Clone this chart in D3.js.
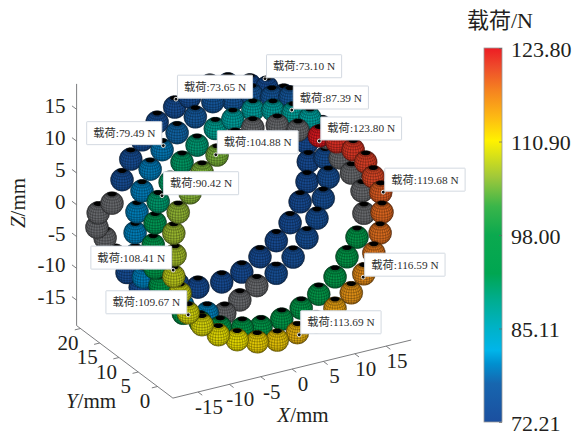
<!DOCTYPE html>
<html>
<head>
<meta charset="utf-8">
<script src="https://cdn.jsdelivr.net/npm/d3@7"></script>
<style>
  body { margin: 0; background: #fff; }
  text { font-family: "Liberation Serif", "Noto Sans CJK SC", serif; fill: #231f20; }
</style>
</head>
<body>
<div id="chart"></div>
<script>
// ball rows, back to front (null load = unloaded ball, drawn grey)
var rowY = [18, 12, 6, 0];

var rowPx = [3.3, 6.8, 9.5, 12.2, 14.3, 15.6, 15.9, 16.1, 15.9, 14.8, 13.2, 11, 8.4, 5.5, 2.3, -1.5, -4.7, -10.7, -12.8, -14.7, -16.3, -17.6, -17.4, -15.2, -13.6, -12.2, -10.4, -8, -5.2, -2.8, 0.4];
var rowPz = [15, 14, 13, 11.1, 8.6, 5.6, 2.7, -0.3, -3.4, -6.3, -9.2, -11.5, -13.4, -15.1, -15.9, -15.8, -14.5, -13.6, -10.8, -7.6, -4.5, -2.5, -0.3, 0.7, 4, 6.9, 9.5, 11.7, 13.4, 14.4, 15.5];
var rowPload = [73.3, 73.2, 73.1, 73.2, 73.2, 73.2, 73.2, 73.2, 73.2, 73.2, 73.2, 73.2, 73.2, 73.2, 73.2, 73.2, 73.2, 73.5, 73.5, null, null, null, null, null, 73.6, 73.6, 73.6, 73.6, 73.65, 73.5, 73.4];

var rowQx = [0.4, 3.4, 6.6, 9.5, 12.1, 14.6, 15.1, 15.6, 14.8, 13.8, 12.2, 10, 7.3, 4.2, 1.5, -0.9, -3.7, -7.6, -11.2, -13.9, -15.2, -15.2, -14.9, -14.1, -12.8, -10.9, -8.5, -5.6, -2.8];
var rowQz = [15.9, 16, 14.9, 14.2, 11.5, 8.3, 3.3, 0.1, -3, -5.9, -8.6, -11.1, -13, -14.2, -15.8, -17.3, -16.6, -14.4, -12, -8.5, -4.7, -1.2, 2, 5.1, 8.2, 10.8, 12.9, 14.7, 16.4];
var rowQload = [76, 76, 76, 76, 74, 74, 74, 74, 74, 74, 74, 74, 74, null, null, null, 80, 80, 80, 80, 80, 80, 80, 79.8, 79.6, 79.49, 78, 76.5, 76];

var rowRx = [-0.1, 3.1, 6.3, 9, 11.7, 13.8, 15.6, 17.3, 17.6, 16.5, 14.9, 13, 10.4, 7.6, 4.5, 1.2, -1.8, -5.3, -8.5, -11.2, -13.3, -14.9, -15.7, -16, -15.7, -15.2, -13.3, -11.4, -9, -6.1, -3.3];
var rowRz = [17.2, 16.4, 15.2, 13.7, 10, 6.3, 3.5, 0.3, -3.3, -6.8, -9.5, -12.2, -14.3, -15.8, -16.8, -17.2, -16.7, -15.7, -14.1, -12.1, -9.5, -6.8, -3.9, -0.2, 3.2, 6.4, 9, 11.7, 13.8, 15.7, 16.5];
var rowRload = [87, 87, 87.39, 87, null, null, null, null, null, 95, 95, 95, 95, 94.5, 94.5, 94, 94, 94, 94, 94, 93, 93, 93, 92.5, 92, 90.42, 91, 91, 90, 88, 87];

var rowSx = [-9.5, -6.6, -3.8, 0.1, 3.4, 6.8, 9.6, 12.2, 14.2, 15.4, 16.6, 16.8, 16.5, 15.5, 13.9, 11.9, 9.3, 6.3, 3.3, 0.1, -3.1, -6.3, -9.3, -11.9, -14.1, -15.4, -16.4, -16.2, -16.4, -15.7, -13.8, -11.9];
var rowSz = [15.1, 16.9, 18, 17.5, 15.9, 14.2, 12.6, 10.7, 8.3, 5.7, 3, -0.2, -3.4, -6.3, -9.2, -11.7, -13.5, -14.9, -15.9, -16.3, -15.8, -14.7, -13.2, -11, -8.6, -5.2, -2.3, 1, 4.5, 7.6, 10.2, 13];
var rowSload = [104.88, null, null, null, null, 123.8, 122.5, 122, 121.5, 121, 119.68, 119, 118.5, 118, 116.59, 116, 115, 114.5, 113.69, 112.5, 112, 111, 110.5, 110, 109.67, 109, 108.41, 107, 106.5, 106, 105.5, 105];

// data tips
var tipLoad = ["73.10", "73.65", "87.39", "123.80", "119.68", "104.88", "79.49", "90.42", "108.41", "109.67", "113.69", "116.59"];
var tipX = [9.2, -5, 6.1, 6.8, 17, -9.7, -10.7, -14.6, -16.5, -14.1, 3.6, 13.8];
var tipY = [18, 18, 6, 0, 0, 0, 12, 6, 0, 0, 0, 0];
var tipZ = [14.4, 14.6, 15.7, 13.4, 2.9, 15.2, 11.4, 7.2, -1.3, -8.9, -16.3, -9.7];
var tipLeft = [false, false, false, false, false, false, true, false, true, true, false, false];

var xTicks = [-15, -10, -5, 0, 5, 10, 15];
var yTicks = [0, 5, 10, 15, 20];
var zTicks = [-15, -10, -5, 0, 5, 10, 15];

// colour map and colour bar
var colorStops = [72.21, 77.5, 80.25, 82.1, 85.11, 89, 92.7, 98, 101.9, 106, 111, 114.3, 118, 121.2, 123.8];
var colorList = ["#1b4f9f", "#1766af", "#0090d0", "#00b5ea", "#00b2c8", "#00ad90", "#00a651", "#0ba94f", "#39b54a", "#a0c83a", "#fff200", "#fdb913", "#f58220", "#ee4b2b", "#ed1c24"];
var barTicks = [72.21, 85.11, 98, 110.9, 123.8];
var unloaded = "#74767a";

var svg = d3.select("#chart").append("svg")
  .attr("width", 588)
  .attr("height", 433)
  .style("display", "block");

var color = d3.scaleLinear().domain(colorStops).range(colorList);

// oblique 3D view: each data axis has a screen-x and a screen-y part
var origin = {x: 172.9, y: 398.1};
var xToPx = d3.scaleLinear().domain([-19, 19]).range([0, 238.3]);
var xToPy = d3.scaleLinear().domain([-19, 19]).range([0, -58.1]);
var yToPx = d3.scaleLinear().domain([-4, 21]).range([0, -96.3]);
var yToPy = d3.scaleLinear().domain([-4, 21]).range([0, -72.5]);
var zToPy = d3.scaleLinear().domain([-19, 19]).range([0, -241.7]);

function project(x, y, z) {
  return [origin.x + xToPx(x) + yToPx(y), origin.y + xToPy(x) + yToPy(y) + zToPy(z)];
}

var defs = svg.append("defs");

var shade = defs.append("radialGradient").attr("id", "shade").attr("cx", "50%").attr("cy", "50%").attr("r", "55%");
shade.append("stop").attr("offset", "0%").attr("stop-color", "#000").attr("stop-opacity", 0.1);
shade.append("stop").attr("offset", "70%").attr("stop-color", "#000").attr("stop-opacity", 0.14);
shade.append("stop").attr("offset", "100%").attr("stop-color", "#000").attr("stop-opacity", 0.24);

// sphere mesh, seen from above, front half only
var ballR = Math.abs(zToPy(-17.2));
var elev = 30 * Math.PI / 180;
var meshLine = d3.line();

function spherePoint(lat, lon) {
  var cl = Math.cos(lat), sx = cl * Math.sin(lon), d = cl * Math.cos(lon), up = Math.sin(lat);
  return {
    p: [ballR * sx, -ballR * (up * Math.cos(elev) - d * Math.sin(elev))],
    front: d * Math.cos(elev) + up * Math.sin(elev) >= 0
  };
}

var meshD = "", rad = Math.PI / 180, i, j, run;
for (i = -75; i <= 75; i += 15) {
  run = [];
  for (j = -180; j <= 180; j += 5) {
    var a = spherePoint(i * rad, j * rad);
    if (a.front) run.push(a.p);
    else { if (run.length > 1) meshD += meshLine(run); run = []; }
  }
  if (run.length > 1) meshD += meshLine(run);
}
for (j = -180; j < 180; j += 15) {
  run = [];
  for (i = -90; i <= 90; i += 5) {
    var b = spherePoint(i * rad, j * rad);
    if (b.front) run.push(b.p);
    else { if (run.length > 1) meshD += meshLine(run); run = []; }
  }
  if (run.length > 1) meshD += meshLine(run);
}
defs.append("path").attr("id", "mesh").attr("d", meshD)
  .attr("fill", "none").attr("stroke", "#000").attr("stroke-opacity", 0.5).attr("stroke-width", 0.5);

var capPts = d3.range(0, 361, 15).map(function(l) { return spherePoint(66 * rad, l * rad).p; });
defs.append("path").attr("id", "cap").attr("d", meshLine(capPts) + "Z").attr("fill", "#0b0b0b");

// axes
var axisColor = "#6d6e71";
var axes = svg.append("g").attr("stroke", axisColor).attr("stroke-width", 0.9).attr("fill", "none");

function segment(a, b) {
  axes.append("path").attr("d", meshLine([a, b]));
}
segment(project(-19, -4, -19), project(19, -4, -19));
segment(project(-19, -4, -19), project(-19, 21, -19));
segment(project(-19, 21, -19), project(-19, 21, 19));

xTicks.forEach(function(t) { segment(project(t, -4, -19), project(t, -5.1, -19)); });
yTicks.forEach(function(t) { segment(project(-19, t, -19), project(-19.9, t, -19)); });
zTicks.forEach(function(t) { segment(project(-19, 21, t), project(-19, 22.2, t)); });

var tickFont = 21;
function tickText(p, dx, dy, anchor, s) {
  svg.append("text").attr("x", p[0] + dx).attr("y", p[1] + dy)
    .attr("text-anchor", anchor).attr("dominant-baseline", "central")
    .attr("font-size", tickFont).text(s);
}
xTicks.forEach(function(t) { tickText(project(t, -4, -19), 11, 15, "middle", t); });
yTicks.forEach(function(t) { tickText(project(-19, t, -19), -12.5, 14, "middle", t); });
zTicks.forEach(function(t) { tickText(project(-19, 21, t), -11, -3, "end", t); });

function axisTitle(sel, letter) {
  sel.append("tspan").attr("font-style", "italic").text(letter);
  sel.append("tspan").text("/mm");
}
svg.append("text").attr("x", 303).attr("y", 415).attr("text-anchor", "middle")
  .attr("dominant-baseline", "central").attr("font-size", tickFont).call(axisTitle, "X");
svg.append("text").attr("x", 91).attr("y", 401).attr("text-anchor", "middle")
  .attr("dominant-baseline", "central").attr("font-size", tickFont).call(axisTitle, "Y");
svg.append("text").attr("transform", "translate(18,203) rotate(-90)").attr("text-anchor", "middle")
  .attr("dominant-baseline", "central").attr("font-size", tickFont).call(axisTitle, "Z");

// balls
function drawRow(xs, zs, loads, y) {
  var data = xs.map(function(x, k) { return {x: x, y: y, z: zs[k], load: loads[k]}; });
  var balls = svg.append("g").selectAll("g").data(data).enter().append("g")
    .attr("transform", function(d) { return "translate(" + project(d.x, d.y, d.z) + ")"; });
  balls.append("circle").attr("r", ballR)
    .attr("fill", function(d) { return d.load === null ? unloaded : color(d.load); });
  balls.append("use").attr("href", "#cap");
  balls.append("use").attr("href", "#mesh");
  balls.append("circle").attr("r", ballR).attr("fill", "url(#shade)")
    .attr("stroke", "#1a1a1a").attr("stroke-opacity", 0.35).attr("stroke-width", 0.5);
}
drawRow(rowPx, rowPz, rowPload, rowY[0]);
drawRow(rowQx, rowQz, rowQload, rowY[1]);
drawRow(rowRx, rowRz, rowRload, rowY[2]);
drawRow(rowSx, rowSz, rowSload, rowY[3]);

// data tips on top of everything
var tipFont = 11.3, tipH = 23, tipPad = 6.5;
tipLoad.forEach(function(v, k) {
  var p = project(tipX[k], tipY[k], tipZ[k]);
  var g = svg.append("g");
  var box = g.append("rect").attr("height", tipH).attr("y", p[1] - tipH - 1)
    .attr("fill", "#fff").attr("stroke", "#d3d9e1").attr("stroke-width", 1).attr("rx", 0.5);
  var label = g.append("text").attr("font-size", tipFont).attr("dominant-baseline", "central")
    .attr("y", p[1] - tipH / 2 - 1).style("fill", "#2e2e2e")
    .text("载荷:" + v + " N");
  var w = label.node().getComputedTextLength() + 2 * tipPad;
  var left = tipLeft[k] ? p[0] - 1.5 - w : p[0] + 1.5;
  box.attr("x", left).attr("width", w);
  label.attr("x", left + tipPad);
  g.append("circle").attr("cx", p[0]).attr("cy", p[1]).attr("r", 1.9)
    .attr("fill", "#111").attr("stroke", "#f4f4f0").attr("stroke-width", 0.9);
});

// colour bar
var barY = d3.scaleLinear().domain([72.21, 123.8]).range([422, 48]);
var grad = defs.append("linearGradient").attr("id", "bar")
  .attr("x1", 0).attr("x2", 0).attr("y1", 1).attr("y2", 0);
colorStops.forEach(function(s, k) {
  grad.append("stop").attr("offset", (s - 72.21) / (123.8 - 72.21)).attr("stop-color", colorList[k]);
});
svg.append("rect").attr("x", 484).attr("y", 48).attr("width", 18).attr("height", 374)
  .attr("fill", "url(#bar)").attr("stroke", "#9a9a9a").attr("stroke-width", 0.8);

var barAxis = d3.axisRight(barY).tickValues(barTicks).tickFormat(d3.format(".2f")).tickSize(-3).tickPadding(13);
var barG = svg.append("g").attr("transform", "translate(502,0)").call(barAxis);
barG.select(".domain").remove();
barG.selectAll("line").attr("stroke", "#666").attr("stroke-width", 0.7);
barG.selectAll("text").attr("font-size", 22).attr("font-family", null).attr("x", 9).attr("dy", "0.38em");

svg.append("text").attr("x", 467).attr("y", 20).attr("dominant-baseline", "central")
  .attr("font-size", 22).text("载荷/N");
</script>
</body>
</html>
